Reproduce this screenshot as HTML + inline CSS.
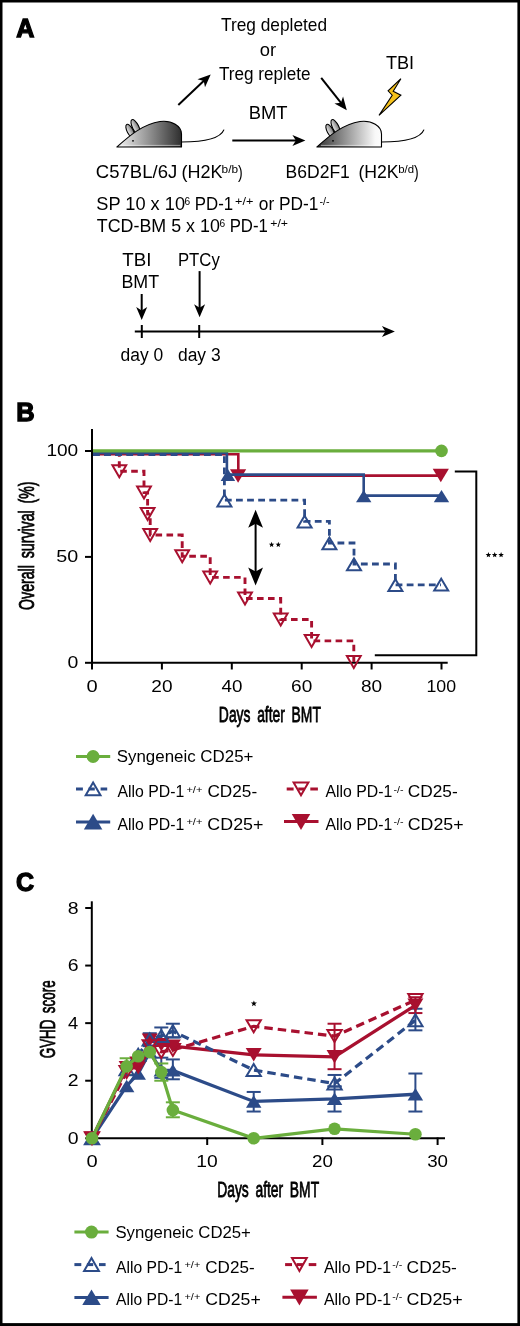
<!DOCTYPE html>
<html><head><meta charset="utf-8"><style>
html,body{margin:0;padding:0;background:#fff;}
svg{display:block;will-change:transform;}
text{font-family:'Liberation Sans',sans-serif;fill:#000;}
</style></head><body>
<svg width="520" height="1326" viewBox="0 0 520 1326">
<defs>
<linearGradient id="gL" x1="0" y1="0" x2="1" y2="0"><stop offset="0" stop-color="#f4f4f4"/><stop offset="1" stop-color="#2e2e2e"/></linearGradient>
<linearGradient id="gLe" x1="0" y1="0" x2="1" y2="0"><stop offset="0" stop-color="#eeeeee"/><stop offset="1" stop-color="#777"/></linearGradient>
<linearGradient id="gR" x1="0" y1="0" x2="1" y2="0"><stop offset="0" stop-color="#333"/><stop offset="0.9" stop-color="#f8f8f8"/><stop offset="1" stop-color="#fdfdfd"/></linearGradient>
<linearGradient id="gRe" x1="0" y1="0" x2="1" y2="0"><stop offset="0" stop-color="#eeeeee"/><stop offset="1" stop-color="#777"/></linearGradient>
</defs>
<rect x="0" y="0" width="520" height="1326" fill="#000"/>
<rect x="2.5" y="2.5" width="514.9" height="1320.6" fill="#fff"/>

<text transform="translate(16.14,37.40) scale(0.9737,1.0)" font-size="25.8" font-weight="bold" stroke="#000" stroke-width="1.3" stroke-linejoin="miter">A</text>
<text transform="translate(221.01,31.00) scale(0.9835,1.0)" font-size="17.6" font-weight="normal" >Treg depleted</text>
<text transform="translate(259.82,56.40) scale(1.0441,1.0)" font-size="17.6" font-weight="normal" >or</text>
<text transform="translate(218.91,79.50) scale(0.9731,1.0)" font-size="17.6" font-weight="normal" >Treg replete</text>
<line x1="178.30" y1="104.90" x2="204.15" y2="80.57" stroke="#000" stroke-width="2" stroke-linecap="butt"/>
<polygon points="210.70,74.40 205.00,87.32 203.78,80.91 197.46,79.31" fill="#000"/>
<line x1="321.20" y1="77.80" x2="341.22" y2="103.14" stroke="#000" stroke-width="2" stroke-linecap="butt"/>
<polygon points="346.80,110.20 334.43,103.41 340.91,102.75 343.06,96.59" fill="#000"/>
<text transform="translate(248.63,118.70) scale(1.0468,1.0)" font-size="17.6" font-weight="normal" >BMT</text>
<line x1="232.30" y1="140.60" x2="296.40" y2="140.60" stroke="#000" stroke-width="2" stroke-linecap="butt"/>
<polygon points="305.40,140.60 292.40,146.10 295.90,140.60 292.40,135.10" fill="#000"/>
<text transform="translate(385.89,68.80) scale(1.0297,1.0)" font-size="17.6" font-weight="normal" >TBI</text>
<polygon points="400.9,78.7 393.2,91.2 400.9,95.2 379.0,115.4 392.2,95.2 388.1,90.8" fill="#f6c21c" stroke="#000" stroke-width="1.1" stroke-linejoin="miter"/>
<g transform="translate(0,0)">
<ellipse cx="135.6" cy="127" rx="3.1" ry="8.2" transform="rotate(-27 135.6 127)" fill="url(#gLe)" stroke="#000" stroke-width="1.1"/>
<ellipse cx="130.2" cy="131" rx="3.0" ry="7.4" transform="rotate(-28 130.2 131)" fill="url(#gLe)" stroke="#000" stroke-width="1.1"/>
<path d="M116.9,147 C124,141 140,124.5 160,121.5 C172,120 181.5,126 181.5,134 L181.5,147 Z" fill="url(#gL)" stroke="#000" stroke-width="1.1" stroke-linejoin="round"/>
<circle cx="133" cy="140.8" r="0.9" fill="#000"/>
<line x1="121" y1="145.4" x2="180.3" y2="145.4" stroke="#fff" stroke-width="0.9" opacity="0.55"/>
<path d="M181.5,142 C201,142 220,139.5 224,129.6" fill="none" stroke="#000" stroke-width="1.2"/>
</g>
<g transform="translate(200,0)">
<ellipse cx="135.6" cy="127" rx="3.1" ry="8.2" transform="rotate(-27 135.6 127)" fill="url(#gRe)" stroke="#000" stroke-width="1.1"/>
<ellipse cx="130.2" cy="131" rx="3.0" ry="7.4" transform="rotate(-28 130.2 131)" fill="url(#gRe)" stroke="#000" stroke-width="1.1"/>
<path d="M116.9,147 C124,141 140,124.5 160,121.5 C172,120 181.5,126 181.5,134 L181.5,147 Z" fill="url(#gR)" stroke="#000" stroke-width="1.1" stroke-linejoin="round"/>
<circle cx="133" cy="140.8" r="0.9" fill="#000"/>
<line x1="121" y1="145.4" x2="180.3" y2="145.4" stroke="#fff" stroke-width="0.9" opacity="0.55"/>
<path d="M181.5,142 C201,142 220,139.5 224,129.6" fill="none" stroke="#000" stroke-width="1.2"/>
</g>
<text transform="translate(95.85,178.20) scale(1.0533,1.0)" font-size="17.6" font-weight="normal" >C57BL/6J</text>
<text transform="translate(181.38,178.20) scale(1.0245,1.0)" font-size="17.6" font-weight="normal" >(H2K</text>
<text transform="translate(221.56,172.70) scale(1.1259,1.0)" font-size="10.5" font-weight="normal" >b/b</text>
<text transform="translate(238.10,178.20) scale(0.8000,1.0)" font-size="17.6" font-weight="normal" >)</text>
<text transform="translate(285.55,178.30) scale(0.9968,1.0)" font-size="17.6" font-weight="normal" >B6D2F1</text>
<text transform="translate(358.40,178.30) scale(1.0039,1.0)" font-size="17.6" font-weight="normal" >(H2K</text>
<text transform="translate(398.28,172.80) scale(1.0868,1.0)" font-size="10.5" font-weight="normal" >b/d</text>
<text transform="translate(414.00,178.30) scale(0.8000,1.0)" font-size="17.6" font-weight="normal" >)</text>
<text transform="translate(96.26,210.30) scale(1.0357,1.0)" font-size="17.6" font-weight="normal" >SP 10 x 10</text>
<text transform="translate(184.42,205.40) scale(0.9684,1.0)" font-size="10.5" font-weight="normal" >6</text>
<text transform="translate(194.77,210.30) scale(0.9563,1.0)" font-size="17.6" font-weight="normal" >PD-1</text>
<text transform="translate(235.10,205.10) scale(1.2070,1.0)" font-size="10.5" font-weight="normal" >+/+</text>
<text transform="translate(258.86,210.30) scale(0.9847,1.0)" font-size="17.6" font-weight="normal" >or PD-1</text>
<text transform="translate(319.49,204.70) scale(1.0222,1.0)" font-size="10.5" font-weight="normal" >-/-</text>
<text transform="translate(96.79,231.60) scale(1.0158,1.0)" font-size="17.6" font-weight="normal" >TCD-BM 5 x 10</text>
<text transform="translate(219.52,226.60) scale(0.9684,1.0)" font-size="10.5" font-weight="normal" >6</text>
<text transform="translate(229.67,231.60) scale(0.9536,1.0)" font-size="17.6" font-weight="normal" >PD-1</text>
<text transform="translate(270.21,226.60) scale(1.1719,1.0)" font-size="10.5" font-weight="normal" >+/+</text>
<text transform="translate(122.37,266.00) scale(1.0653,1.0)" font-size="17.6" font-weight="normal" >TBI</text>
<text transform="translate(121.38,288.10) scale(1.0156,1.0)" font-size="17.6" font-weight="normal" >BMT</text>
<text transform="translate(177.97,266.00) scale(0.9506,1.0)" font-size="17.6" font-weight="normal" >PTCy</text>
<line x1="141.70" y1="294.00" x2="141.70" y2="310.90" stroke="#000" stroke-width="2" stroke-linecap="butt"/>
<polygon points="141.70,319.90 136.20,306.90 141.70,310.40 147.20,306.90" fill="#000"/>
<line x1="199.60" y1="271.10" x2="199.60" y2="308.20" stroke="#000" stroke-width="2" stroke-linecap="butt"/>
<polygon points="199.60,317.20 194.10,304.20 199.60,307.70 205.10,304.20" fill="#000"/>
<line x1="134.80" y1="331.50" x2="385.90" y2="331.50" stroke="#000" stroke-width="2" stroke-linecap="butt"/>
<polygon points="394.90,331.50 381.90,337.00 385.40,331.50 381.90,326.00" fill="#000"/>
<line x1="141.80" y1="325.00" x2="141.80" y2="338.00" stroke="#000" stroke-width="2" stroke-linecap="butt"/>
<line x1="199.20" y1="325.00" x2="199.20" y2="338.00" stroke="#000" stroke-width="2" stroke-linecap="butt"/>
<text transform="translate(120.56,361.10) scale(0.9928,1.0)" font-size="17.6" font-weight="normal" >day 0</text>
<text transform="translate(177.96,361.10) scale(0.9928,1.0)" font-size="17.6" font-weight="normal" >day 3</text>
<text transform="translate(16.30,421.30) scale(1.0030,1.0)" font-size="25.4" font-weight="bold" stroke="#000" stroke-width="1.3" stroke-linejoin="miter">B</text>
<line x1="92.00" y1="429.00" x2="92.00" y2="663.80" stroke="#000" stroke-width="2" stroke-linecap="butt"/>
<line x1="91.00" y1="662.80" x2="447.70" y2="662.80" stroke="#000" stroke-width="2" stroke-linecap="butt"/>
<line x1="85.00" y1="451.00" x2="92.00" y2="451.00" stroke="#000" stroke-width="2" stroke-linecap="butt"/>
<text transform="translate(46.40,456.10) scale(1.1170,1.0)" font-size="17.1" font-weight="normal" >100</text>
<line x1="85.00" y1="556.90" x2="92.00" y2="556.90" stroke="#000" stroke-width="2" stroke-linecap="butt"/>
<text transform="translate(56.33,562.00) scale(1.1543,1.0)" font-size="17.1" font-weight="normal" >50</text>
<line x1="85.00" y1="662.80" x2="92.00" y2="662.80" stroke="#000" stroke-width="2" stroke-linecap="butt"/>
<text transform="translate(67.45,667.90) scale(1.1375,1.0)" font-size="17.1" font-weight="normal" >0</text>
<line x1="92.00" y1="662.00" x2="92.00" y2="669.50" stroke="#000" stroke-width="2" stroke-linecap="butt"/>
<text transform="translate(86.42,691.80) scale(1.1750,1.0)" font-size="17.1" font-weight="normal" >0</text>
<line x1="161.90" y1="662.00" x2="161.90" y2="669.50" stroke="#000" stroke-width="2" stroke-linecap="butt"/>
<text transform="translate(151.31,691.80) scale(1.1143,1.0)" font-size="17.1" font-weight="normal" >20</text>
<line x1="231.80" y1="662.00" x2="231.80" y2="669.50" stroke="#000" stroke-width="2" stroke-linecap="butt"/>
<text transform="translate(221.50,691.80) scale(1.0986,1.0)" font-size="17.1" font-weight="normal" >40</text>
<line x1="301.70" y1="662.00" x2="301.70" y2="669.50" stroke="#000" stroke-width="2" stroke-linecap="butt"/>
<text transform="translate(291.11,691.80) scale(1.1143,1.0)" font-size="17.1" font-weight="normal" >60</text>
<line x1="371.60" y1="662.00" x2="371.60" y2="669.50" stroke="#000" stroke-width="2" stroke-linecap="butt"/>
<text transform="translate(361.01,691.80) scale(1.1143,1.0)" font-size="17.1" font-weight="normal" >80</text>
<line x1="441.50" y1="662.00" x2="441.50" y2="669.50" stroke="#000" stroke-width="2" stroke-linecap="butt"/>
<text transform="translate(426.45,691.80) scale(1.0377,1.0)" font-size="17.1" font-weight="normal" >100</text>
<text transform="translate(218.87,721.80) scale(0.6202,1.0)" font-size="22.4" font-weight="normal" stroke="#000" stroke-width="0.8" word-spacing="4.5">Days after BMT</text>
<text transform="translate(33.90,609.97) rotate(-90) scale(0.6330,1.0)" font-size="22.4" font-weight="normal" stroke="#000" stroke-width="0.8" word-spacing="4.5">Overall survival (%)</text>
<polyline points="93.00,454.20 238.30,454.20 238.30,475.60 440.80,475.60" fill="none" stroke="#a8102f" stroke-width="2.6" stroke-linejoin="miter"/>
<polygon points="238.10,482.75 246.20,469.25 230.00,469.25" fill="#a8102f"/>
<polygon points="440.80,482.35 448.90,468.85 432.70,468.85" fill="#a8102f"/>
<polyline points="93.00,453.00 226.90,453.00 226.90,474.60 363.70,474.60 363.70,495.60 441.50,495.60" fill="none" stroke="#2c4b88" stroke-width="2.6" stroke-linejoin="miter"/>
<polygon points="227.90,469.00 235.15,481.00 220.65,481.00" fill="#2c4b88"/>
<polygon points="363.70,490.05 371.40,502.35 356.00,502.35" fill="#2c4b88"/>
<polygon points="441.50,490.05 449.20,502.35 433.80,502.35" fill="#2c4b88"/>
<polyline points="93.00,454.50 119.30,454.50 119.30,471.30 144.00,471.30 144.00,492.60 147.60,492.60 147.60,514.00 150.20,514.00 150.20,535.00 182.20,535.00 182.20,556.20 210.20,556.20 210.20,577.40 245.00,577.40 245.00,598.50 280.70,598.50 280.70,619.50 311.60,619.50 311.60,640.90 353.80,640.90 353.80,662.00" fill="none" stroke="#a8102f" stroke-width="2.9" stroke-linejoin="miter" stroke-dasharray="6.6 4.4" stroke-dashoffset="0"/>
<polygon points="119.30,477.30 126.20,465.30 112.40,465.30" fill="none" stroke="#a8102f" stroke-width="2.0" stroke-linejoin="miter"/>
<polygon points="144.00,498.60 150.90,486.60 137.10,486.60" fill="none" stroke="#a8102f" stroke-width="2.0" stroke-linejoin="miter"/>
<polygon points="147.60,520.00 154.50,508.00 140.70,508.00" fill="none" stroke="#a8102f" stroke-width="2.0" stroke-linejoin="miter"/>
<polygon points="150.20,541.00 157.10,529.00 143.30,529.00" fill="none" stroke="#a8102f" stroke-width="2.0" stroke-linejoin="miter"/>
<polygon points="182.20,562.20 189.10,550.20 175.30,550.20" fill="none" stroke="#a8102f" stroke-width="2.0" stroke-linejoin="miter"/>
<polygon points="210.20,583.40 217.10,571.40 203.30,571.40" fill="none" stroke="#a8102f" stroke-width="2.0" stroke-linejoin="miter"/>
<polygon points="245.00,604.50 251.90,592.50 238.10,592.50" fill="none" stroke="#a8102f" stroke-width="2.0" stroke-linejoin="miter"/>
<polygon points="280.70,625.50 287.60,613.50 273.80,613.50" fill="none" stroke="#a8102f" stroke-width="2.0" stroke-linejoin="miter"/>
<polygon points="311.60,646.90 318.50,634.90 304.70,634.90" fill="none" stroke="#a8102f" stroke-width="2.0" stroke-linejoin="miter"/>
<polygon points="353.80,668.00 360.70,656.00 346.90,656.00" fill="none" stroke="#a8102f" stroke-width="2.0" stroke-linejoin="miter"/>
<polyline points="93.00,454.50 224.40,454.50 224.40,500.20 304.60,500.20 304.60,521.30 329.40,521.30 329.40,543.00 354.00,543.00 354.00,564.00 395.40,564.00 395.40,584.80 440.90,584.80" fill="none" stroke="#2c4b88" stroke-width="2.8" stroke-linejoin="miter" stroke-dasharray="6.8 4.3" stroke-dashoffset="0"/>
<polygon points="224.40,494.60 231.40,506.40 217.40,506.40" fill="none" stroke="#2c4b88" stroke-width="2.0" stroke-linejoin="miter"/>
<polygon points="304.60,515.70 311.60,527.50 297.60,527.50" fill="none" stroke="#2c4b88" stroke-width="2.0" stroke-linejoin="miter"/>
<polygon points="329.40,537.40 336.40,549.20 322.40,549.20" fill="none" stroke="#2c4b88" stroke-width="2.0" stroke-linejoin="miter"/>
<polygon points="354.00,558.40 361.00,570.20 347.00,570.20" fill="none" stroke="#2c4b88" stroke-width="2.0" stroke-linejoin="miter"/>
<polygon points="395.40,579.20 402.40,591.00 388.40,591.00" fill="none" stroke="#2c4b88" stroke-width="2.0" stroke-linejoin="miter"/>
<polygon points="441.20,578.70 448.20,590.50 434.20,590.50" fill="none" stroke="#2c4b88" stroke-width="2.0" stroke-linejoin="miter"/>
<line x1="93.00" y1="450.80" x2="441.50" y2="450.80" stroke="#6aae3d" stroke-width="3.2" stroke-linecap="butt"/>
<circle cx="441.50" cy="450.90" r="6.3" fill="#6aae3d"/>
<line x1="255.60" y1="522.00" x2="255.60" y2="573.00" stroke="#000" stroke-width="2" stroke-linecap="butt"/>
<polygon points="255.60,509.70 263.00,527.70 255.60,523.70 248.20,527.70" fill="#000"/>
<polygon points="255.60,585.50 248.20,567.50 255.60,571.50 263.00,567.50" fill="#000"/>
<polygon points="271.60,541.80 272.33,543.69 274.36,543.80 272.79,545.09 273.30,547.05 271.60,545.95 269.90,547.05 270.41,545.09 268.84,543.80 270.87,543.69" fill="#000"/>
<polygon points="278.30,541.80 279.03,543.69 281.06,543.80 279.49,545.09 280.00,547.05 278.30,545.95 276.60,547.05 277.11,545.09 275.54,543.80 277.57,543.69" fill="#000"/>
<polyline points="454.80,471.50 476.30,471.50 476.30,655.20 374.80,655.20" fill="none" stroke="#000" stroke-width="2" stroke-linejoin="miter"/>
<polygon points="488.40,552.10 489.13,553.99 491.16,554.10 489.59,555.39 490.10,557.35 488.40,556.25 486.70,557.35 487.21,555.39 485.64,554.10 487.67,553.99" fill="#000"/>
<polygon points="494.70,552.10 495.43,553.99 497.46,554.10 495.89,555.39 496.40,557.35 494.70,556.25 493.00,557.35 493.51,555.39 491.94,554.10 493.97,553.99" fill="#000"/>
<polygon points="501.10,552.10 501.83,553.99 503.86,554.10 502.29,555.39 502.80,557.35 501.10,556.25 499.40,557.35 499.91,555.39 498.34,554.10 500.37,553.99" fill="#000"/>
<g transform="translate(0,0)">
<line x1="76.00" y1="756.50" x2="110.20" y2="756.50" stroke="#6aae3d" stroke-width="3" stroke-linecap="butt"/>
<circle cx="93.10" cy="756.50" r="6.5" fill="#6aae3d"/>
<line x1="76.00" y1="789.00" x2="82.90" y2="789.00" stroke="#2c4b88" stroke-width="3" stroke-linecap="butt"/>
<line x1="88.50" y1="789.00" x2="94.80" y2="789.00" stroke="#2c4b88" stroke-width="3" stroke-linecap="butt"/>
<line x1="100.60" y1="789.00" x2="107.20" y2="789.00" stroke="#2c4b88" stroke-width="3" stroke-linecap="butt"/>
<polygon points="93.10,782.50 100.50,795.30 85.70,795.30" fill="none" stroke="#2c4b88" stroke-width="2.0" stroke-linejoin="miter"/>
<line x1="76.00" y1="821.90" x2="110.20" y2="821.90" stroke="#2c4b88" stroke-width="3" stroke-linecap="butt"/>
<polygon points="93.10,813.80 102.35,829.40 83.85,829.40" fill="#2c4b88"/>
<line x1="286.70" y1="789.00" x2="293.60" y2="789.00" stroke="#a8102f" stroke-width="3" stroke-linecap="butt"/>
<line x1="298.20" y1="789.00" x2="304.50" y2="789.00" stroke="#a8102f" stroke-width="3" stroke-linecap="butt"/>
<line x1="310.30" y1="789.00" x2="317.90" y2="789.00" stroke="#a8102f" stroke-width="3" stroke-linecap="butt"/>
<polygon points="301.00,795.30 308.40,782.50 293.60,782.50" fill="none" stroke="#a8102f" stroke-width="2.0" stroke-linejoin="miter"/>
<line x1="284.00" y1="821.60" x2="318.50" y2="821.60" stroke="#a8102f" stroke-width="3" stroke-linecap="butt"/>
<polygon points="301.00,830.00 310.25,814.00 291.75,814.00" fill="#a8102f"/>
</g>
<text transform="translate(116.71,761.70) scale(1.0506,1.0)" font-size="16.1" font-weight="normal" >Syngeneic CD25+</text>
<text transform="translate(117.40,797.30) scale(0.9829,1.0)" font-size="16.1" font-weight="normal" >Allo PD-1</text>
<text transform="translate(186.41,792.50) scale(1.1840,1.0)" font-size="9.3" font-weight="normal" >+/+</text>
<text transform="translate(207.40,797.30) scale(1.0689,1.0)" font-size="16.1" font-weight="normal" >CD25-</text>
<text transform="translate(325.40,797.30) scale(0.9829,1.0)" font-size="16.1" font-weight="normal" >Allo PD-1</text>
<text transform="translate(393.43,792.50) scale(1.1484,1.0)" font-size="9.3" font-weight="normal" >-/-</text>
<text transform="translate(407.69,797.30) scale(1.0756,1.0)" font-size="16.1" font-weight="normal" >CD25-</text>
<text transform="translate(117.40,829.90) scale(0.9829,1.0)" font-size="16.1" font-weight="normal" >Allo PD-1</text>
<text transform="translate(186.41,825.10) scale(1.1840,1.0)" font-size="9.3" font-weight="normal" >+/+</text>
<text transform="translate(207.37,829.90) scale(1.1082,1.0)" font-size="16.1" font-weight="normal" >CD25+</text>
<text transform="translate(325.40,829.90) scale(0.9829,1.0)" font-size="16.1" font-weight="normal" >Allo PD-1</text>
<text transform="translate(393.43,825.10) scale(1.1484,1.0)" font-size="9.3" font-weight="normal" >-/-</text>
<text transform="translate(407.67,829.90) scale(1.1061,1.0)" font-size="16.1" font-weight="normal" >CD25+</text>
<text transform="translate(16.02,890.90) scale(0.9644,1.0)" font-size="26.0" font-weight="bold" stroke="#000" stroke-width="1.3" stroke-linejoin="miter">C</text>
<line x1="91.80" y1="901.30" x2="91.80" y2="1139.30" stroke="#000" stroke-width="2" stroke-linecap="butt"/>
<line x1="90.80" y1="1138.30" x2="445.00" y2="1138.30" stroke="#000" stroke-width="2" stroke-linecap="butt"/>
<line x1="85.20" y1="1138.30" x2="91.80" y2="1138.30" stroke="#000" stroke-width="2" stroke-linecap="butt"/>
<text transform="translate(67.65,1143.90) scale(1.1375,1.0)" font-size="17.1" font-weight="normal" >0</text>
<line x1="85.20" y1="1080.72" x2="91.80" y2="1080.72" stroke="#000" stroke-width="2" stroke-linecap="butt"/>
<text transform="translate(67.65,1086.32) scale(1.1375,1.0)" font-size="17.1" font-weight="normal" >2</text>
<line x1="85.20" y1="1023.14" x2="91.80" y2="1023.14" stroke="#000" stroke-width="2" stroke-linecap="butt"/>
<text transform="translate(67.96,1028.74) scale(1.0706,1.0)" font-size="17.1" font-weight="normal" >4</text>
<line x1="85.20" y1="965.56" x2="91.80" y2="965.56" stroke="#000" stroke-width="2" stroke-linecap="butt"/>
<text transform="translate(67.65,971.16) scale(1.1375,1.0)" font-size="17.1" font-weight="normal" >6</text>
<line x1="85.20" y1="907.98" x2="91.80" y2="907.98" stroke="#000" stroke-width="2" stroke-linecap="butt"/>
<text transform="translate(67.65,913.58) scale(1.1375,1.0)" font-size="17.1" font-weight="normal" >8</text>
<line x1="92.00" y1="1137.50" x2="92.00" y2="1145.00" stroke="#000" stroke-width="2" stroke-linecap="butt"/>
<text transform="translate(86.42,1167.20) scale(1.1750,1.0)" font-size="17.1" font-weight="normal" >0</text>
<line x1="207.20" y1="1137.50" x2="207.20" y2="1145.00" stroke="#000" stroke-width="2" stroke-linecap="butt"/>
<text transform="translate(196.19,1167.20) scale(1.1294,1.0)" font-size="17.1" font-weight="normal" >10</text>
<line x1="322.40" y1="1137.50" x2="322.40" y2="1145.00" stroke="#000" stroke-width="2" stroke-linecap="butt"/>
<text transform="translate(311.98,1167.20) scale(1.0971,1.0)" font-size="17.1" font-weight="normal" >20</text>
<line x1="437.60" y1="1137.50" x2="437.60" y2="1145.00" stroke="#000" stroke-width="2" stroke-linecap="butt"/>
<text transform="translate(427.18,1167.20) scale(1.0971,1.0)" font-size="17.1" font-weight="normal" >30</text>
<text transform="translate(217.17,1197.20) scale(0.6196,1.0)" font-size="22.4" font-weight="normal" stroke="#000" stroke-width="0.8" word-spacing="4.5">Days after BMT</text>
<text transform="translate(55.30,1058.25) rotate(-90) scale(0.5981,1.0)" font-size="22.4" font-weight="normal" stroke="#000" stroke-width="0.8" word-spacing="4.5">GVHD score</text>
<line x1="253.70" y1="1111.53" x2="253.70" y2="1091.95" stroke="#2c4b88" stroke-width="2" stroke-linecap="butt"/>
<line x1="246.70" y1="1111.53" x2="260.70" y2="1111.53" stroke="#2c4b88" stroke-width="2" stroke-linecap="butt"/>
<line x1="246.70" y1="1091.95" x2="260.70" y2="1091.95" stroke="#2c4b88" stroke-width="2" stroke-linecap="butt"/>
<line x1="334.55" y1="1111.53" x2="334.55" y2="1086.48" stroke="#2c4b88" stroke-width="2" stroke-linecap="butt"/>
<line x1="327.55" y1="1111.53" x2="341.55" y2="1111.53" stroke="#2c4b88" stroke-width="2" stroke-linecap="butt"/>
<line x1="327.55" y1="1086.48" x2="341.55" y2="1086.48" stroke="#2c4b88" stroke-width="2" stroke-linecap="butt"/>
<line x1="415.40" y1="1111.53" x2="415.40" y2="1073.52" stroke="#2c4b88" stroke-width="2" stroke-linecap="butt"/>
<line x1="408.40" y1="1111.53" x2="422.40" y2="1111.53" stroke="#2c4b88" stroke-width="2" stroke-linecap="butt"/>
<line x1="408.40" y1="1073.52" x2="422.40" y2="1073.52" stroke="#2c4b88" stroke-width="2" stroke-linecap="butt"/>
<line x1="334.55" y1="1086.48" x2="334.55" y2="1074.96" stroke="#2c4b88" stroke-width="2" stroke-linecap="butt"/>
<line x1="327.55" y1="1086.48" x2="341.55" y2="1086.48" stroke="#2c4b88" stroke-width="2" stroke-linecap="butt"/>
<line x1="327.55" y1="1074.96" x2="341.55" y2="1074.96" stroke="#2c4b88" stroke-width="2" stroke-linecap="butt"/>
<line x1="415.40" y1="1030.34" x2="415.40" y2="1008.74" stroke="#2c4b88" stroke-width="2" stroke-linecap="butt"/>
<line x1="408.40" y1="1030.34" x2="422.40" y2="1030.34" stroke="#2c4b88" stroke-width="2" stroke-linecap="butt"/>
<line x1="408.40" y1="1008.74" x2="422.40" y2="1008.74" stroke="#2c4b88" stroke-width="2" stroke-linecap="butt"/>
<line x1="334.55" y1="1069.20" x2="334.55" y2="1023.72" stroke="#a8102f" stroke-width="2" stroke-linecap="butt"/>
<line x1="327.55" y1="1069.20" x2="341.55" y2="1069.20" stroke="#a8102f" stroke-width="2" stroke-linecap="butt"/>
<line x1="327.55" y1="1023.72" x2="341.55" y2="1023.72" stroke="#a8102f" stroke-width="2" stroke-linecap="butt"/>
<line x1="415.40" y1="1013.06" x2="415.40" y2="997.23" stroke="#a8102f" stroke-width="2" stroke-linecap="butt"/>
<line x1="408.40" y1="1013.06" x2="422.40" y2="1013.06" stroke="#a8102f" stroke-width="2" stroke-linecap="butt"/>
<line x1="408.40" y1="997.23" x2="422.40" y2="997.23" stroke="#a8102f" stroke-width="2" stroke-linecap="butt"/>
<line x1="172.85" y1="1037.53" x2="172.85" y2="1023.72" stroke="#2c4b88" stroke-width="2" stroke-linecap="butt"/>
<line x1="165.85" y1="1037.53" x2="179.85" y2="1037.53" stroke="#2c4b88" stroke-width="2" stroke-linecap="butt"/>
<line x1="165.85" y1="1023.72" x2="179.85" y2="1023.72" stroke="#2c4b88" stroke-width="2" stroke-linecap="butt"/>
<line x1="161.30" y1="1045.02" x2="161.30" y2="1027.46" stroke="#2c4b88" stroke-width="2" stroke-linecap="butt"/>
<line x1="154.30" y1="1045.02" x2="168.30" y2="1045.02" stroke="#2c4b88" stroke-width="2" stroke-linecap="butt"/>
<line x1="154.30" y1="1027.46" x2="168.30" y2="1027.46" stroke="#2c4b88" stroke-width="2" stroke-linecap="butt"/>
<line x1="149.75" y1="1046.17" x2="149.75" y2="1033.22" stroke="#2c4b88" stroke-width="2" stroke-linecap="butt"/>
<line x1="142.75" y1="1046.17" x2="156.75" y2="1046.17" stroke="#2c4b88" stroke-width="2" stroke-linecap="butt"/>
<line x1="142.75" y1="1033.22" x2="156.75" y2="1033.22" stroke="#2c4b88" stroke-width="2" stroke-linecap="butt"/>
<line x1="172.85" y1="1079.28" x2="172.85" y2="1059.42" stroke="#2c4b88" stroke-width="2" stroke-linecap="butt"/>
<line x1="165.85" y1="1079.28" x2="179.85" y2="1079.28" stroke="#2c4b88" stroke-width="2" stroke-linecap="butt"/>
<line x1="165.85" y1="1059.42" x2="179.85" y2="1059.42" stroke="#2c4b88" stroke-width="2" stroke-linecap="butt"/>
<line x1="161.30" y1="1077.84" x2="161.30" y2="1057.69" stroke="#2c4b88" stroke-width="2" stroke-linecap="butt"/>
<line x1="154.30" y1="1077.84" x2="168.30" y2="1077.84" stroke="#2c4b88" stroke-width="2" stroke-linecap="butt"/>
<line x1="154.30" y1="1057.69" x2="168.30" y2="1057.69" stroke="#2c4b88" stroke-width="2" stroke-linecap="butt"/>
<line x1="126.65" y1="1074.96" x2="126.65" y2="1058.26" stroke="#6aae3d" stroke-width="2" stroke-linecap="butt"/>
<line x1="119.65" y1="1074.96" x2="133.65" y2="1074.96" stroke="#6aae3d" stroke-width="2" stroke-linecap="butt"/>
<line x1="119.65" y1="1058.26" x2="133.65" y2="1058.26" stroke="#6aae3d" stroke-width="2" stroke-linecap="butt"/>
<line x1="161.30" y1="1080.72" x2="161.30" y2="1063.45" stroke="#6aae3d" stroke-width="2" stroke-linecap="butt"/>
<line x1="154.30" y1="1080.72" x2="168.30" y2="1080.72" stroke="#6aae3d" stroke-width="2" stroke-linecap="butt"/>
<line x1="154.30" y1="1063.45" x2="168.30" y2="1063.45" stroke="#6aae3d" stroke-width="2" stroke-linecap="butt"/>
<line x1="172.85" y1="1117.28" x2="172.85" y2="1102.31" stroke="#6aae3d" stroke-width="2" stroke-linecap="butt"/>
<line x1="165.85" y1="1117.28" x2="179.85" y2="1117.28" stroke="#6aae3d" stroke-width="2" stroke-linecap="butt"/>
<line x1="165.85" y1="1102.31" x2="179.85" y2="1102.31" stroke="#6aae3d" stroke-width="2" stroke-linecap="butt"/>
<polyline points="92.00,1138.30 126.65,1085.90 138.20,1073.52 149.75,1051.93 161.30,1070.36 172.85,1070.36 253.70,1101.45 334.55,1098.86 415.40,1094.25" fill="none" stroke="#2c4b88" stroke-width="3.3" stroke-linejoin="miter"/>
<polyline points="92.00,1138.30 126.65,1067.76 138.20,1067.76 149.75,1040.13 161.30,1044.73 172.85,1046.17 253.70,1054.81 334.55,1056.82 415.40,1005.29" fill="none" stroke="#a8102f" stroke-width="3.3" stroke-linejoin="miter"/>
<polyline points="92.00,1138.30 126.65,1069.20 138.20,1054.81 149.75,1039.55 161.30,1036.10 172.85,1031.20 253.70,1070.07 334.55,1083.60 415.40,1020.26" fill="none" stroke="#2c4b88" stroke-width="3.2" stroke-linejoin="miter" stroke-dasharray="8.5 5" stroke-dashoffset="0"/>
<polyline points="92.00,1138.30 126.65,1072.08 138.20,1063.45 149.75,1046.17 161.30,1051.93 172.85,1049.91 253.70,1026.31 334.55,1036.10 415.40,1000.11" fill="none" stroke="#a8102f" stroke-width="3.2" stroke-linejoin="miter" stroke-dasharray="8.5 5" stroke-dashoffset="0"/>
<polygon points="92.00,1132.05 99.75,1144.55 84.25,1144.55" fill="#2c4b88"/>
<polygon points="126.65,1079.65 134.40,1092.15 118.90,1092.15" fill="#2c4b88"/>
<polygon points="138.20,1067.27 145.95,1079.77 130.45,1079.77" fill="#2c4b88"/>
<polygon points="149.75,1045.68 157.50,1058.18 142.00,1058.18" fill="#2c4b88"/>
<polygon points="161.30,1064.11 169.05,1076.61 153.55,1076.61" fill="#2c4b88"/>
<polygon points="172.85,1064.11 180.60,1076.61 165.10,1076.61" fill="#2c4b88"/>
<polygon points="253.70,1095.20 261.45,1107.70 245.95,1107.70" fill="#2c4b88"/>
<polygon points="334.55,1092.61 342.30,1105.11 326.80,1105.11" fill="#2c4b88"/>
<polygon points="415.40,1088.00 423.15,1100.50 407.65,1100.50" fill="#2c4b88"/>
<polygon points="92.00,1145.05 100.00,1131.55 84.00,1131.55" fill="#a8102f"/>
<polygon points="126.65,1074.51 134.65,1061.01 118.65,1061.01" fill="#a8102f"/>
<polygon points="138.20,1074.51 146.20,1061.01 130.20,1061.01" fill="#a8102f"/>
<polygon points="149.75,1046.88 157.75,1033.38 141.75,1033.38" fill="#a8102f"/>
<polygon points="161.30,1051.48 169.30,1037.98 153.30,1037.98" fill="#a8102f"/>
<polygon points="172.85,1052.92 180.85,1039.42 164.85,1039.42" fill="#a8102f"/>
<polygon points="253.70,1061.56 261.70,1048.06 245.70,1048.06" fill="#a8102f"/>
<polygon points="334.55,1063.57 342.55,1050.07 326.55,1050.07" fill="#a8102f"/>
<polygon points="415.40,1012.04 423.40,998.54 407.40,998.54" fill="#a8102f"/>
<polygon points="92.00,1132.30 99.15,1144.30 84.85,1144.30" fill="none" stroke="#2c4b88" stroke-width="2.0" stroke-linejoin="miter"/>
<polygon points="126.65,1063.20 133.80,1075.20 119.50,1075.20" fill="none" stroke="#2c4b88" stroke-width="2.0" stroke-linejoin="miter"/>
<polygon points="138.20,1048.81 145.35,1060.81 131.05,1060.81" fill="none" stroke="#2c4b88" stroke-width="2.0" stroke-linejoin="miter"/>
<polygon points="149.75,1033.55 156.90,1045.55 142.60,1045.55" fill="none" stroke="#2c4b88" stroke-width="2.0" stroke-linejoin="miter"/>
<polygon points="161.30,1030.10 168.45,1042.10 154.15,1042.10" fill="none" stroke="#2c4b88" stroke-width="2.0" stroke-linejoin="miter"/>
<polygon points="172.85,1025.20 180.00,1037.20 165.70,1037.20" fill="none" stroke="#2c4b88" stroke-width="2.0" stroke-linejoin="miter"/>
<polygon points="253.70,1064.07 260.85,1076.07 246.55,1076.07" fill="none" stroke="#2c4b88" stroke-width="2.0" stroke-linejoin="miter"/>
<polygon points="334.55,1077.60 341.70,1089.60 327.40,1089.60" fill="none" stroke="#2c4b88" stroke-width="2.0" stroke-linejoin="miter"/>
<polygon points="415.40,1014.26 422.55,1026.26 408.25,1026.26" fill="none" stroke="#2c4b88" stroke-width="2.0" stroke-linejoin="miter"/>
<polygon points="92.00,1144.30 99.15,1132.30 84.85,1132.30" fill="none" stroke="#a8102f" stroke-width="2.0" stroke-linejoin="miter"/>
<polygon points="126.65,1078.08 133.80,1066.08 119.50,1066.08" fill="none" stroke="#a8102f" stroke-width="2.0" stroke-linejoin="miter"/>
<polygon points="138.20,1069.45 145.35,1057.45 131.05,1057.45" fill="none" stroke="#a8102f" stroke-width="2.0" stroke-linejoin="miter"/>
<polygon points="149.75,1052.17 156.90,1040.17 142.60,1040.17" fill="none" stroke="#a8102f" stroke-width="2.0" stroke-linejoin="miter"/>
<polygon points="161.30,1057.93 168.45,1045.93 154.15,1045.93" fill="none" stroke="#a8102f" stroke-width="2.0" stroke-linejoin="miter"/>
<polygon points="172.85,1055.91 180.00,1043.91 165.70,1043.91" fill="none" stroke="#a8102f" stroke-width="2.0" stroke-linejoin="miter"/>
<polygon points="253.70,1032.31 260.85,1020.31 246.55,1020.31" fill="none" stroke="#a8102f" stroke-width="2.0" stroke-linejoin="miter"/>
<polygon points="334.55,1042.10 341.70,1030.10 327.40,1030.10" fill="none" stroke="#a8102f" stroke-width="2.0" stroke-linejoin="miter"/>
<polygon points="415.40,1006.11 422.55,994.11 408.25,994.11" fill="none" stroke="#a8102f" stroke-width="2.0" stroke-linejoin="miter"/>
<polyline points="92.00,1138.30 126.65,1066.33 138.20,1056.25 149.75,1051.93 161.30,1072.08 172.85,1110.09 253.70,1138.30 334.55,1128.80 415.40,1134.27" fill="none" stroke="#6aae3d" stroke-width="3.2" stroke-linejoin="miter"/>
<circle cx="92.00" cy="1138.30" r="6.3" fill="#6aae3d"/>
<circle cx="126.65" cy="1066.33" r="6.3" fill="#6aae3d"/>
<circle cx="138.20" cy="1056.25" r="6.3" fill="#6aae3d"/>
<circle cx="149.75" cy="1051.93" r="6.3" fill="#6aae3d"/>
<circle cx="161.30" cy="1072.08" r="6.3" fill="#6aae3d"/>
<circle cx="172.85" cy="1110.09" r="6.3" fill="#6aae3d"/>
<circle cx="253.70" cy="1138.30" r="6.3" fill="#6aae3d"/>
<circle cx="334.55" cy="1128.80" r="6.3" fill="#6aae3d"/>
<circle cx="415.40" cy="1134.27" r="6.3" fill="#6aae3d"/>
<polygon points="253.90,1000.40 254.69,1002.51 256.94,1002.61 255.18,1004.02 255.78,1006.19 253.90,1004.95 252.02,1006.19 252.62,1004.02 250.86,1002.61 253.11,1002.51" fill="#000"/>
<g transform="translate(-1.6,475.6)">
<line x1="76.00" y1="756.50" x2="110.20" y2="756.50" stroke="#6aae3d" stroke-width="3" stroke-linecap="butt"/>
<circle cx="93.10" cy="756.50" r="6.5" fill="#6aae3d"/>
<line x1="76.00" y1="789.00" x2="82.90" y2="789.00" stroke="#2c4b88" stroke-width="3" stroke-linecap="butt"/>
<line x1="88.50" y1="789.00" x2="94.80" y2="789.00" stroke="#2c4b88" stroke-width="3" stroke-linecap="butt"/>
<line x1="100.60" y1="789.00" x2="107.20" y2="789.00" stroke="#2c4b88" stroke-width="3" stroke-linecap="butt"/>
<polygon points="93.10,782.50 100.50,795.30 85.70,795.30" fill="none" stroke="#2c4b88" stroke-width="2.0" stroke-linejoin="miter"/>
<line x1="76.00" y1="821.90" x2="110.20" y2="821.90" stroke="#2c4b88" stroke-width="3" stroke-linecap="butt"/>
<polygon points="93.10,813.80 102.35,829.40 83.85,829.40" fill="#2c4b88"/>
<line x1="286.70" y1="789.00" x2="293.60" y2="789.00" stroke="#a8102f" stroke-width="3" stroke-linecap="butt"/>
<line x1="298.20" y1="789.00" x2="304.50" y2="789.00" stroke="#a8102f" stroke-width="3" stroke-linecap="butt"/>
<line x1="310.30" y1="789.00" x2="317.90" y2="789.00" stroke="#a8102f" stroke-width="3" stroke-linecap="butt"/>
<polygon points="301.00,795.30 308.40,782.50 293.60,782.50" fill="none" stroke="#a8102f" stroke-width="2.0" stroke-linejoin="miter"/>
<line x1="284.00" y1="821.60" x2="318.50" y2="821.60" stroke="#a8102f" stroke-width="3" stroke-linecap="butt"/>
<polygon points="301.00,830.00 310.25,814.00 291.75,814.00" fill="#a8102f"/>
</g>
<text transform="translate(115.42,1237.90) scale(1.0411,1.0)" font-size="16.1" font-weight="normal" >Syngeneic CD25+</text>
<text transform="translate(116.10,1272.50) scale(0.9741,1.0)" font-size="16.1" font-weight="normal" >Allo PD-1</text>
<text transform="translate(184.49,1267.70) scale(1.1733,1.0)" font-size="9.3" font-weight="normal" >+/+</text>
<text transform="translate(205.29,1272.50) scale(1.0593,1.0)" font-size="16.1" font-weight="normal" >CD25-</text>
<text transform="translate(324.00,1272.50) scale(0.9868,1.0)" font-size="16.1" font-weight="normal" >Allo PD-1</text>
<text transform="translate(392.30,1267.70) scale(1.1530,1.0)" font-size="9.3" font-weight="normal" >-/-</text>
<text transform="translate(406.62,1272.50) scale(1.0799,1.0)" font-size="16.1" font-weight="normal" >CD25-</text>
<text transform="translate(116.10,1305.20) scale(0.9741,1.0)" font-size="16.1" font-weight="normal" >Allo PD-1</text>
<text transform="translate(184.49,1300.40) scale(1.1733,1.0)" font-size="9.3" font-weight="normal" >+/+</text>
<text transform="translate(205.26,1305.20) scale(1.0982,1.0)" font-size="16.1" font-weight="normal" >CD25+</text>
<text transform="translate(324.00,1305.20) scale(0.9868,1.0)" font-size="16.1" font-weight="normal" >Allo PD-1</text>
<text transform="translate(392.30,1300.40) scale(1.1530,1.0)" font-size="9.3" font-weight="normal" >-/-</text>
<text transform="translate(406.60,1305.20) scale(1.1105,1.0)" font-size="16.1" font-weight="normal" >CD25+</text>
</svg></body></html>
